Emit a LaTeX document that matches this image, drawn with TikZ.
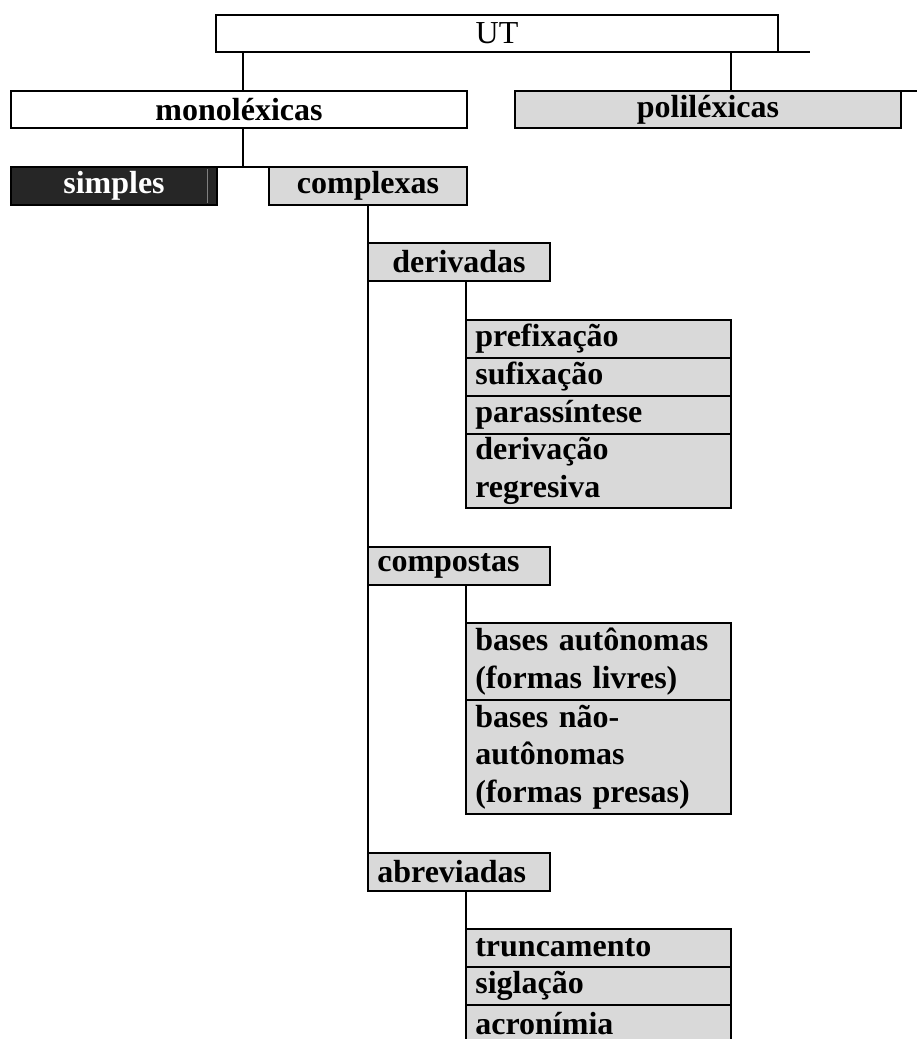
\documentclass[tikz,border=0pt]{standalone}
\usepackage{fontspec}
\setmainfont{Liberation Serif}
\usepackage{tikz}
\usepackage{xcolor}
\usetikzlibrary{positioning}
\definecolor{cinza}{HTML}{D9D9D9}
\definecolor{escuro}{HTML}{262626}
\newdimen\px \px=0.75pt

\begin{document}
\begin{tikzpicture}[x=0.75pt, y=-0.75pt,
                    caixa/.style={draw, line width=1.5pt, inner sep=0pt, outer sep=0pt,
                                  anchor=north west, minimum height=38\px,
                                  font=\fontsize{24}{28}\selectfont\bfseries},
                    nivel/.style={caixa, fill=cinza},
                    sub/.style={nivel, minimum width=182\px, text width=122.5pt,
                                inner xsep=7pt, align=left},
                    lista/.style={nivel, minimum width=265\px, text width=184.75pt,
                                  inner xsep=7pt, align=left},
                    ramo/.style={line width=1.5pt}]
                    \useasboundingbox (0,0) rectangle (917,1039);
                    \clip (0,0) rectangle (917,1039);
                    \node[caixa, font=\fontsize{24}{28}\selectfont, minimum width=562\px,
                          minimum height=37\px] (ut) at (216,15) {UT};
                    \node[caixa, minimum width=456\px, minimum height=37\px] (mono) at (11,91) {monoléxicas};
                    \node[nivel, minimum width=386\px, minimum height=37\px] (poli) at (515,91) {poliléxicas};
                    \node[caixa, fill=escuro, text=white, minimum width=206\px] (simp) at (11,167) {simples};
                    \node[nivel, minimum width=198\px] (comp) at (269,167) {complexas};
                    \node[nivel, minimum width=182\px] (der) at (368,243) {derivadas};
                    \node[lista] (pre) at (466,320) {prefixação};
                    \node[lista, below=0pt of pre] (suf) {sufixação};
                    \node[lista, below=0pt of suf] (par) {parassíntese};
                    \node[lista, below=0pt of par, minimum height=74\px] (reg) {derivação\\regresiva};
                    \node[sub] (compo) at (368,547) {compostas};
                    \node[lista, minimum height=77\px] (livre) at (466,623) {bases autônomas\\(formas livres)};
                    \node[lista, below=0pt of livre, minimum height=114\px] (presa) {bases não-\\autônomas\\(formas presas)};
                    \node[sub] (abrev) at (368,853) {abreviadas};
                    \node[lista] (trunc) at (466,929) {truncamento};
                    \node[lista, below=0pt of trunc] (sigla) {siglação};
                    \node[lista, below=0pt of sigla] (acro) {acronímia};
                    \coordinate (utfim) at (810,52);
                    \coordinate (polifim) at (917,91);
                    \draw[ramo] (ut.south east) -- (utfim);
                    \draw[ramo] (poli.north east) -- (polifim);
                    \draw[gray, line width=0.6pt, shorten <=1.5pt, shorten >=1.5pt]
                          ([xshift=-7.5pt]simp.north east) -- ([xshift=-7.5pt]simp.south east);
                    \draw[ramo] (ut.south -| 243,0) -- (mono.north -| 243,0);
                    \draw[ramo] (ut.south -| 731,0) -- (poli.north -| 731,0);
                    \draw[ramo] (mono.south -| 243,0) -- (simp.north -| 243,0);
                    \draw[ramo] (simp.north east) -- (comp.north west);
                    \draw[ramo] (comp.south) -- (comp.south |- abrev.north);
                    \draw[ramo] (der.south -| pre.north west) -- (pre.north west);
                    \draw[ramo] (compo.south -| livre.north west) -- (livre.north west);
                    \draw[ramo] (abrev.south -| trunc.north west) -- (trunc.north west);
                \end{tikzpicture}
\end{document}
